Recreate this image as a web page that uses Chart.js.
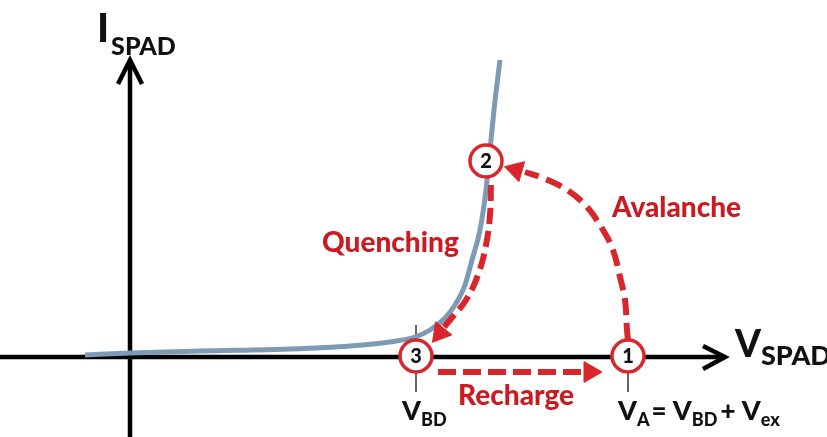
<!DOCTYPE html>
<html>
<head>
<meta charset="utf-8">
<script src="https://cdn.jsdelivr.net/npm/chart.js@4.4.0/dist/chart.umd.min.js"></script>
<style>
html, body { margin: 0; padding: 0; background: #fff; }
#wrap { width: 827px; height: 437px; position: relative; }
</style>
</head>
<body>
<div id="wrap"><canvas id="myChart"></canvas></div>
<script>
// SPAD I-V curve, origin where the two axes cross
var curveV = [-45, 0, 70, 160, 220, 260, 285, 300, 315, 325, 335, 342, 350, 356, 360, 364, 370];
var curveI = [2, 4, 6, 8, 11, 15, 20, 27, 39, 52, 72, 97, 127, 167, 207, 247, 297];

// the three operating states
var stateNames = ["1", "2", "3"];
var stateV = [498, 356, 286];
var stateI = [1, 196, 1];

// red dashed transitions
var rechargeV = [308, 455];
var rechargeI = [-15, -15];
var avalancheV = [498, 497, 495, 490, 483, 473, 457, 437, 413, 395];
var avalancheI = [17, 27, 57, 80, 107, 127, 150, 167, 179, 185];
var quenchV = [361, 360, 356, 348, 336, 320, 314];
var quenchI = [172, 142, 112, 82, 57, 37, 30];

// arrow heads: [V, I, direction in degrees]
var headV = [460, 386, 310];
var headI = [-15, 187, 24];
var headDir = [90, 286, 219];

// axes
var axisXV = [-130, 595], axisXI = [0, 0];
var arrowXV = [573, 595, 573], arrowXI = [11, 0, -12];
var axisYV = [0, 0], axisYI = [-80, 297];
var arrowYV = [-12, 0, 12], arrowYI = [273, 297, 273];

// small marks at V_BD and V_A
var tickBDV = 286, tickAV = 498;

var red = '#d9262c';
var redText = '#cc1a22';
var curveColor = '#7e9ab4';

function pts(xs, ys) {
  return xs.map(function (x, i) { return { x: x, y: ys[i] }; });
}

function lineSet(data, color, width, extra) {
  var ds = {
    data: data,
    showLine: true,
    pointRadius: 0,
    borderColor: color,
    borderWidth: width,
    fill: false
  };
  for (var k in extra) ds[k] = extra[k];
  return ds;
}

function drawPieces(ctx, x, y, pieces) {
  pieces.forEach(function (p) {
    ctx.font = '900 ' + p.size + 'px Lato';
    ctx.fillText(p.t, x, y + (p.dy || 0));
    x += ctx.measureText(p.t).width + (p.gap || 0);
  });
}

var textPlugin = {
  id: 'texts',
  afterDatasetsDraw: function (chart) {
    var ctx = chart.ctx;
    var sx = chart.scales.x, sy = chart.scales.y;
    ctx.save();

    // numbers in the circles
    var meta = chart.getDatasetMeta(0);
    ctx.fillStyle = '#111';
    ctx.textAlign = 'center';
    ctx.textBaseline = 'middle';
    ctx.font = '900 20px Lato';
    meta.data.forEach(function (el, i) {
      ctx.fillText(stateNames[i], el.x, el.y + 1);
    });
    ctx.textAlign = 'left';
    ctx.textBaseline = 'alphabetic';

    // axis titles
    drawPieces(ctx, sx.getPixelForValue(-33), sy.getPixelForValue(315), [
      { t: 'I', size: 40, gap: 2 }, { t: 'SPAD', size: 25, dy: 13 }
    ]);
    drawPieces(ctx, sx.getPixelForValue(605), sy.getPixelForValue(0), [
      { t: 'V', size: 37, gap: 0 }, { t: 'SPAD', size: 27, dy: 8 }
    ]);

    // voltage labels
    drawPieces(ctx, sx.getPixelForValue(272), sy.getPixelForValue(-63), [
      { t: 'V', size: 27 }, { t: 'BD', size: 18, dy: 6 }
    ]);
    drawPieces(ctx, sx.getPixelForValue(488), sy.getPixelForValue(-63), [
      { t: 'V', size: 27 }, { t: 'A', size: 18, dy: 6, gap: 2 },
      { t: '= ', size: 26 }, { t: 'V', size: 27 }, { t: 'BD', size: 18, dy: 6, gap: 3 },
      { t: '+ ', size: 26 }, { t: 'V', size: 27 }, { t: 'ex', size: 18, dy: 6 }
    ]);

    // transition names
    ctx.fillStyle = redText;
    drawPieces(ctx, sx.getPixelForValue(192), sy.getPixelForValue(105), [{ t: 'Quenching', size: 28 }]);
    drawPieces(ctx, sx.getPixelForValue(482), sy.getPixelForValue(140), [{ t: 'Avalanche', size: 28 }]);
    drawPieces(ctx, sx.getPixelForValue(328), sy.getPixelForValue(-48), [{ t: 'Recharge', size: 28 }]);
    ctx.restore();
  }
};

var datasets = [
  // circles (first dataset is drawn on top)
  {
    data: pts(stateV, stateI),
    pointRadius: 16,
    pointBackgroundColor: '#fff',
    pointBorderColor: red,
    pointBorderWidth: 3.5,
    showLine: false
  },
  {
    data: pts(headV, headI),
    pointStyle: 'triangle',
    pointRadius: 12,
    pointRotation: headDir,
    pointBackgroundColor: red,
    pointBorderColor: red,
    pointBorderWidth: 1,
    showLine: false
  },
  lineSet(pts(quenchV, quenchI), red, 6, { borderDash: [16, 7], tension: 0.4 }),
  lineSet(pts(avalancheV, avalancheI), red, 6, { borderDash: [17, 8], tension: 0.4 }),
  lineSet(pts(rechargeV, rechargeI), red, 6, { borderDash: [18, 7] }),
  lineSet(pts(curveV, curveI), curveColor, 5, { cubicInterpolationMode: 'monotone', borderCapStyle: 'butt' }),
  lineSet(pts([tickBDV, tickBDV], [17, 32]), '#333', 1.5),
  lineSet(pts([tickBDV, tickBDV], [-14, -35]), '#333', 1.5),
  lineSet(pts([tickAV, tickAV], [-14, -35]), '#333', 1.5),
  lineSet(pts(axisXV, axisXI), '#000', 4.5),
  lineSet(pts(arrowXV, arrowXI), '#000', 4.5, { borderJoinStyle: 'miter' }),
  lineSet(pts(axisYV, axisYI), '#000', 4.5),
  lineSet(pts(arrowYV, arrowYI), '#000', 4.5, { borderJoinStyle: 'miter' })
];

new Chart(document.getElementById('myChart'), {
  type: 'scatter',
  data: { datasets: datasets },
  options: {
    responsive: true,
    maintainAspectRatio: false,
    animation: false,
    layout: { padding: 0, autoPadding: false },
    plugins: { legend: { display: false }, tooltip: { enabled: false } },
    scales: {
      x: { type: 'linear', min: -130, max: 697, display: false },
      y: { type: 'linear', min: -80, max: 357, display: false }
    }
  },
  plugins: [textPlugin]
});
</script>
</body>
</html>
